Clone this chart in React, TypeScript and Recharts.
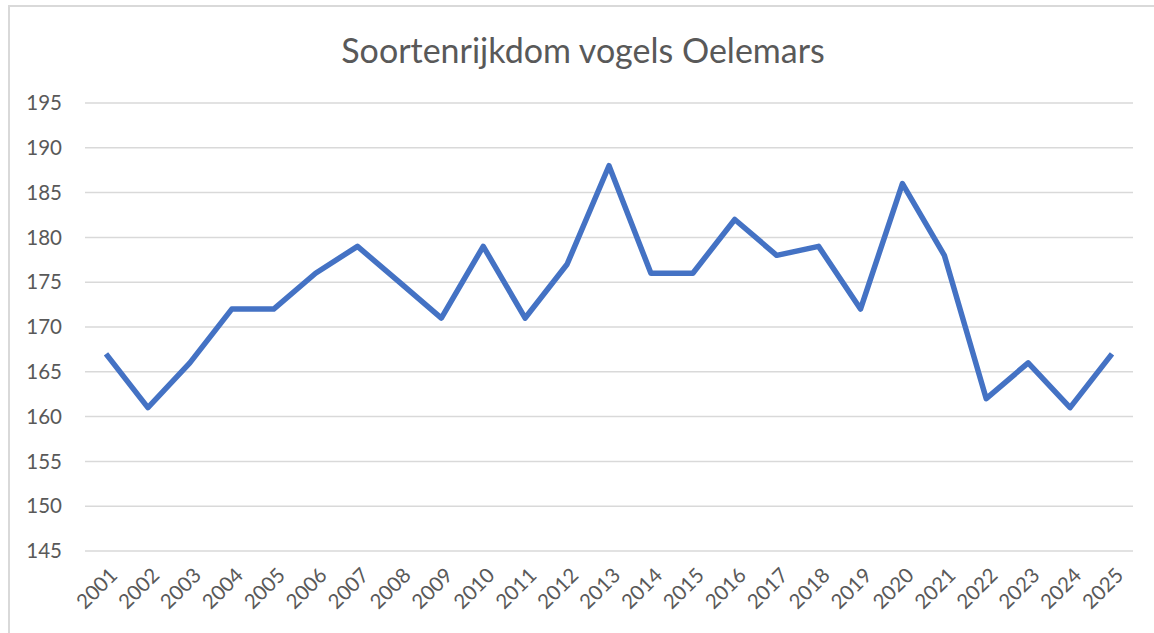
import { LineChart, Line, XAxis, YAxis, CartesianGrid } from 'recharts'

const years = [
  '2001', '2002', '2003', '2004', '2005', '2006', '2007', '2008', '2009', '2010',
  '2011', '2012', '2013', '2014', '2015', '2016', '2017', '2018', '2019', '2020',
  '2021', '2022', '2023', '2024', '2025',
]
const species = [
  167, 161, 166, 172, 172, 176, 179, 175, 171, 179,
  171, 177, 188, 176, 176, 182, 178, 179, 172, 186,
  178, 162, 166, 161, 167,
]
const yTicks = [145, 150, 155, 160, 165, 170, 175, 180, 185, 190, 195]

const data = years.map((year, i) => ({ year, species: species[i] }))

const FONT = 'Lato, "Open Sans", sans-serif'
const TEXT = '#595959'

// eslint-disable-next-line @typescript-eslint/no-explicit-any
function YearTick(props: any) {
  const { x, y, payload } = props
  const tx = x + 7
  const ty = y + 12
  return (
    <text
      x={tx}
      y={ty}
      textAnchor="end"
      dominantBaseline="central"
      transform={`rotate(-45 ${tx} ${ty})`}
      fontSize={20.5}
      fill={TEXT}
      fontFamily={FONT}
    >
      {payload.value}
    </text>
  )
}

export default function App() {
  return (
    <div
      style={{
        position: 'absolute',
        left: 8,
        top: 5,
        width: 1146,
        height: 628,
        boxSizing: 'border-box',
        borderLeft: '2px solid #d9d9d9',
        borderTop: '2px solid #d9d9d9',
        background: '#fff',
        fontFamily: FONT,
      }}
    >
      <div
        style={{
          position: 'absolute',
          top: 22,
          left: 0,
          width: 1146,
          textAlign: 'center',
          fontSize: 34,
          color: TEXT,
        }}
      >
        Soortenrijkdom vogels Oelemars
      </div>
      <div style={{ position: 'absolute', left: -2, top: -2 }}>
        <LineChart
          width={1146}
          height={628}
          data={data}
          margin={{ top: 98, right: 21, left: 0, bottom: 12 }}
        >
          <CartesianGrid vertical={false} stroke="#d9d9d9" strokeWidth={1.5} />
          <XAxis
            dataKey="year"
            interval={0}
            padding={{ left: 21, right: 21 }}
            axisLine={false}
            tickLine={false}
            height={70}
            tick={<YearTick />}
          />
          <YAxis
            domain={[145, 195]}
            ticks={yTicks}
            interval={0}
            axisLine={false}
            tickLine={false}
            tickSize={0}
            tickMargin={23}
            width={77}
            tick={{ fontSize: 20.5, fill: TEXT, fontFamily: FONT }}
          />
          <Line
            type="linear"
            dataKey="species"
            stroke="#4472C4"
            strokeWidth={5.5}
            strokeLinejoin="round"
            dot={false}
            activeDot={false}
            isAnimationActive={false}
          />
        </LineChart>
      </div>
    </div>
  )
}
